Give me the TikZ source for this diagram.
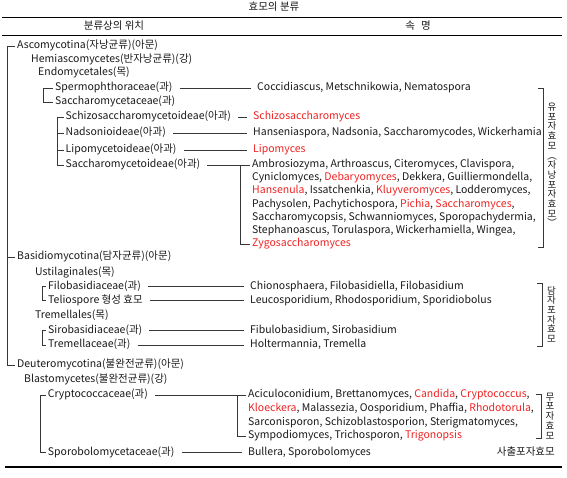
\documentclass[tikz,border=0pt]{standalone}
\usepackage{fontspec}
\setmainfont{Noto Sans CJK KR}
\definecolor{redg}{RGB}{238,34,34}
\definecolor{txtc}{RGB}{25,25,25}
\definecolor{linec}{RGB}{55,55,55}
\newcommand{\redw}[1]{\textcolor{redg}{#1}}
\newcommand{\fzmain}{\fontsize{10.5}{12}\selectfont}
\newcommand{\fzvert}{\fontsize{9.5}{9.7}\selectfont}
\tikzset{
  tx/.style={anchor=west, inner xsep=2pt, inner ysep=0pt, text height=7.5pt, text depth=2.5pt, font=\fzmain, text=txtc},
  ctr/.style={inner sep=0pt, text height=7.5pt, text depth=2.5pt, font=\fzmain, text=txtc},
  vtext/.style={inner sep=0pt, align=center, font=\fzvert, text=txtc},
  ln/.style={draw=linec, line width=0.8pt},
  conn/.style={ln, shorten <=5pt, shorten >=4pt},
  rule/.style={draw=black, line width=#1},
}
\begin{document}
\begin{tikzpicture}[x=1pt, y=-1pt]
\useasboundingbox (0,0) rectangle (567,478);
% rules and headers
\node[ctr] (title) at (274,8) {효모의 분류};
\coordinate (r1a) at (2,17.6); \coordinate (r1b) at (562,17.6);
\coordinate (r2a) at (2,35.7); \coordinate (r2b) at (562,35.7);
\coordinate (r3a) at (5,466.7); \coordinate (r3b) at (562,466.7);
\draw[rule=1.6pt] (r1a) -- (r1b);
\draw[rule=1.4pt] (r2a) -- (r2b);
\draw[rule=2.4pt] (r3a) -- (r3b);
\node[ctr] (h1) at (114,26.7) {분류상의 위치};
\node[ctr] (h2) at (418,26.7) {속\hspace{6pt}명};

% taxonomy
\node[tx] (asco) at (15,46.5) {Ascomycotina(자낭균류)(아문)};
\node[tx] (hemi) at (29,60) {Hemiascomycetes(반자낭균류)(강)};
\node[tx] (endo) at (36,73.5) {Endomycetales(목)};
\node[tx] (sperm) at (53,88) {Spermophthoraceae(과)};
\node[tx] (sacchf) at (53,102) {Saccharomycetaceae(과)};
\node[tx] (schizo) at (63.5,117) {Schizosaccharomycetoideae(아과)};
\node[tx] (nadso) at (63.5,133.5) {Nadsonioideae(아과)};
\node[tx] (lipo) at (63.5,150) {Lipomycetoideae(아과)};
\node[tx] (sacchsf) at (63.5,165) {Saccharomycetoideae(아과)};
\node[tx] (basid) at (15,257) {Basidiomycotina(담자균류)(아문)};
\node[tx] (ustil) at (33,273.3) {Ustilaginales(목)};
\node[tx] (filo) at (46,286.7) {Filobasidiaceae(과)};
\node[tx] (telio) at (46,300.7) {Teliospore 형성 효모};
\node[tx] (treme) at (33,316) {Tremellales(목)};
\node[tx] (siro) at (46,330.7) {Sirobasidiaceae(과)};
\node[tx] (tremf) at (46,345) {Tremellaceae(과)};
\node[tx] (deut) at (15,365) {Deuteromycotina(불완전균류)(아문)};
\node[tx] (blasto) at (22,380) {Blastomycetes(불완전균류)(강)};
\node[tx] (crypto) at (45.7,395) {Cryptococcaceae(과)};
\node[tx] (sporo) at (45.7,452.7) {Sporobolomycetaceae(과)};

% genera
\node[tx] (spermG) at (255,88) {Coccidiascus, Metschnikowia, Nematospora};
\node[tx] (schizoG) at (251,117) {\redw{Schizosaccharomyces}};
\node[tx] (nadsoG) at (251,133.5) {Hanseniaspora, Nadsonia, Saccharomycodes, Wickerhamia};
\node[tx] (lipoG) at (251,150) {\redw{Lipomyces}};
\node[tx] (g1) at (250,165) {Ambrosiozyma, Arthroascus, Citeromyces, Clavispora,};
\node[tx] (g2) at (250,178.2) {Cyniclomyces, \redw{Debaryomyces}, Dekkera, Guilliermondella,};
\node[tx] (g3) at (250,191.4) {\redw{Hansenula}, Issatchenkia, \redw{Kluyveromyces}, Lodderomyces,};
\node[tx] (g4) at (250,204.6) {Pachysolen, Pachytichospora, \redw{Pichia}, \redw{Saccharomyces},};
\node[tx] (g5) at (250,217.8) {Saccharomycopsis, Schwanniomyces, Sporopachydermia,};
\node[tx] (g6) at (250,231) {Stephanoascus, Torulaspora, Wickerhamiella, Wingea,};
\node[tx] (g7) at (250,244.2) {\redw{Zygosaccharomyces}};
\node[tx] (filoG) at (248,286.7) {Chionosphaera, Filobasidiella, Filobasidium};
\node[tx] (telioG) at (248,300.7) {Leucosporidium, Rhodosporidium, Sporidiobolus};
\node[tx] (siroG) at (248,330.7) {Fibulobasidium, Sirobasidium};
\node[tx] (tremG) at (248,345) {Holtermannia, Tremella};
\node[tx] (c1) at (246,395) {Aciculoconidium, Brettanomyces, \redw{Candida}, \redw{Cryptococcus},};
\node[tx] (c2) at (246,409) {\redw{Kloeckera}, Malassezia, Oosporidium, Phaffia, \redw{Rhodotorula},};
\node[tx] (c3) at (246,422.7) {Sarconisporon, Schizoblastosporion, Sterigmatomyces,};
\node[tx] (c4) at (246,436) {Sympodiomyces, Trichosporon, \redw{Trigonopsis}};
\node[tx] (sporoG) at (246,452.7) {Bullera, Sporobolomyces};
\node[tx, anchor=east] (ballisto) at (557,452.7) {사출포자효모};

% vertical group labels
\node[vtext] (v1) at (552,165) {유\\포\\자\\효\\모\\︵\\자\\낭\\포\\자\\효\\모\\︶};
\node[vtext] (v2) at (551.5,314.5) {담\\자\\포\\자\\효\\모};
\node[vtext] (v3) at (550,416) {무\\포\\자\\효\\모};

% tree brackets
\draw[ln] (asco.west) -- ++(-7.3,0) |- (deut.west);
\draw[ln] (basid.west) -- ++(-7.3,0);
\draw[ln] (sperm.west) -- ++(-9.7,0) |- (sacchf.west);
\draw[ln] (schizo.west) -- ++(-6.2,0) |- (sacchsf.west);
\draw[ln] (nadso.west) -- ++(-6.2,0);
\draw[ln] (lipo.west) -- ++(-6.2,0);
\draw[ln] (filo.west) -- ++(-4,0) |- (telio.west);
\draw[ln] (siro.west) -- ++(-4,0) |- (tremf.west);
\draw[ln] (crypto.west) -- ++(-5,0) |- (sporo.west);

% connectors taxon -> genera
\draw[conn] (sperm.east) -- (spermG.west);
\draw[conn] (schizo.east) -- (schizoG.west);
\draw[conn] (nadso.east) -- (nadsoG.west);
\draw[conn] (lipo.east) -- (lipoG.west);
\draw[conn] (filo.east) -- (filoG.west);
\draw[conn] (telio.east) -- (telioG.west);
\draw[conn] (siro.east) -- (siroG.west);
\draw[conn] (tremf.east) -- (tremG.west);
\draw[conn] (sporo.east) -- (sporoG.west);
% genus brackets
\coordinate (sbr) at (240,165);
\coordinate (cbr) at (237,395);
\draw[ln, shorten <=5pt] (sacchsf.east) -- (sbr);
\draw[ln] (g1.west) -- (sbr) |- (g7.west);
\draw[ln, shorten <=5pt] (crypto.east) -- (cbr);
\draw[ln] (c1.west) -- (cbr) |- (c4.west);

% right group brackets
\coordinate (b1t) at (537.5,88); \coordinate (b1b) at (537.5,247);
\coordinate (b2t) at (537,283); \coordinate (b2b) at (537,346);
\coordinate (b3t) at (535.5,394); \coordinate (b3b) at (535.5,438);
\draw[ln] (b1t) -- ++(5.5,0) |- (b1b);
\draw[ln] (b2t) -- ++(5,0) |- (b2b);
\draw[ln] (b3t) -- ++(6,0) |- (b3b);
\end{tikzpicture}
\end{document}
